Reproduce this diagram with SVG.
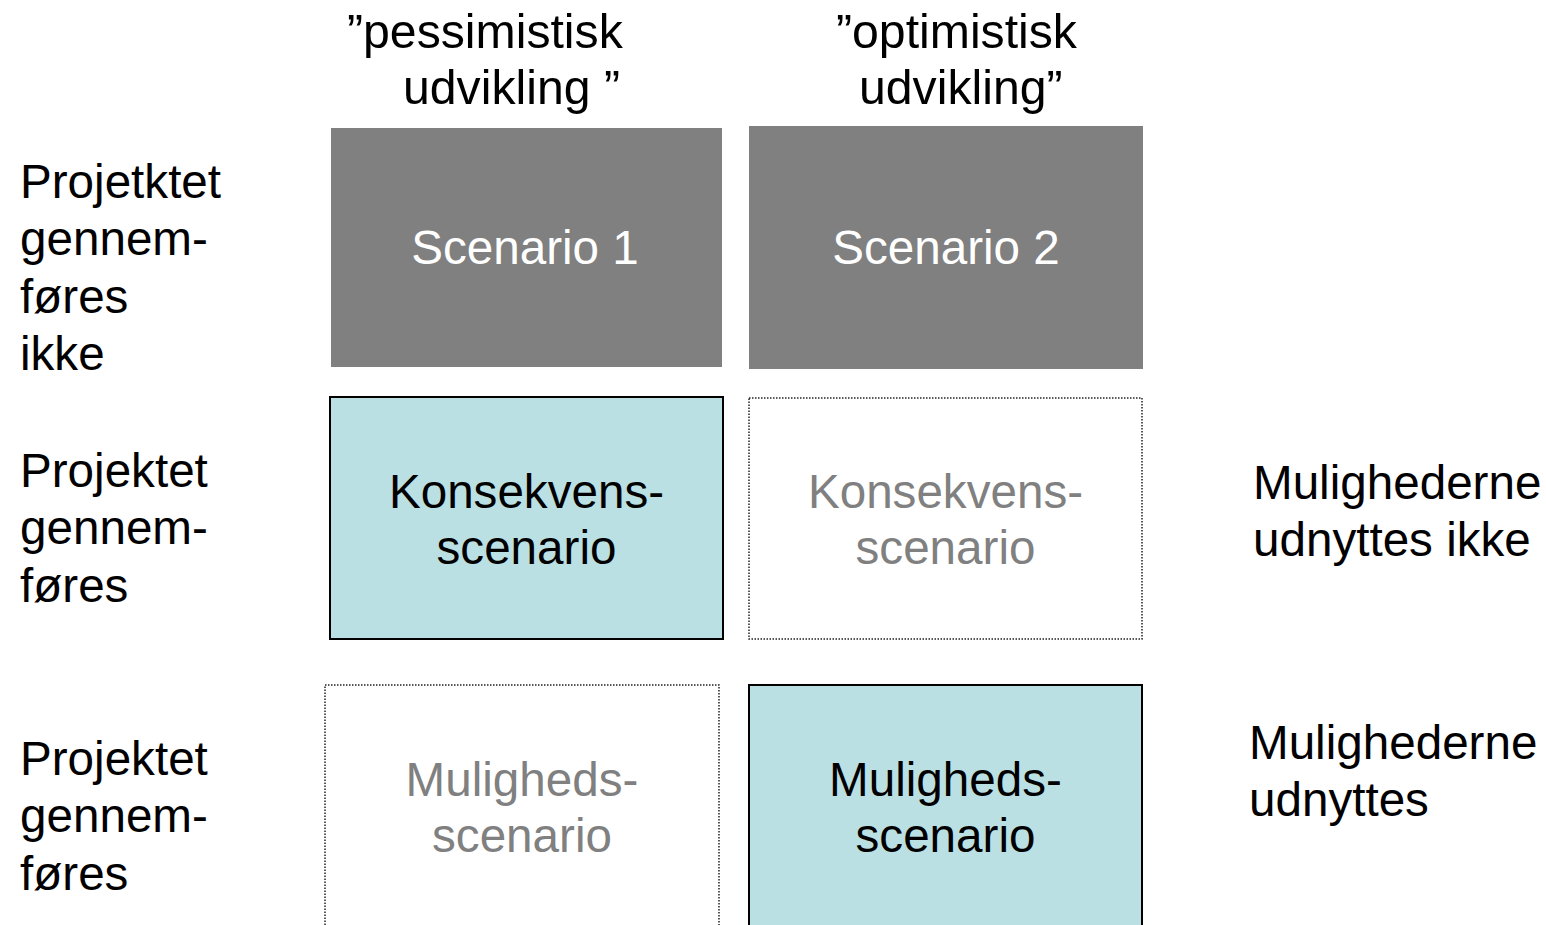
<svg xmlns="http://www.w3.org/2000/svg" width="1546" height="925" viewBox="0 0 1546 925">
<style>
text{font-family:"Liberation Sans",Arial,sans-serif;font-size:47.6px;fill:#000}
.h{font-size:48.2px}
.c{text-anchor:middle}
.w{fill:#ffffff}
.g{fill:#808080}
.dark{fill:#808080;stroke:none}
.teal{fill:#BBE0E3;stroke:#000;stroke-width:2}
.dot{fill:#fff;stroke:#222;stroke-width:1.5;stroke-dasharray:1.5 1.5}
</style>
<rect width="1546" height="925" fill="#fff"/>
<g id="header-pessimistisk">
<text class="h" x="347" y="48">”pessimistisk</text>
<text class="h" x="403" y="104">udvikling ”</text>
</g>
<g id="header-optimistisk">
<text class="h" x="836" y="48">”optimistisk</text>
<text class="h" x="859" y="104">udvikling”</text>
</g>
<g id="row1-label">
<text x="20" y="198">Projetktet</text>
<text x="20" y="255">gennem-</text>
<text x="20" y="313">føres</text>
<text x="20" y="370">ikke</text>
</g>
<g id="row2-label">
<text x="20" y="487">Projektet</text>
<text x="20" y="544">gennem-</text>
<text x="20" y="602">føres</text>
</g>
<g id="row3-label">
<text x="20" y="775">Projektet</text>
<text x="20" y="832">gennem-</text>
<text x="20" y="890">føres</text>
</g>
<g id="scenario1">
<rect class="dark" x="331" y="128" width="391" height="239"/>
<text class="c w" x="525" y="264">Scenario 1</text>
</g>
<g id="scenario2">
<rect class="dark" x="749" y="126" width="394" height="243"/>
<text class="c w" x="946" y="264">Scenario 2</text>
</g>
<g id="konsekvens-1">
<rect class="teal" x="330" y="397" width="393" height="242"/>
<text class="c" x="526.5" y="508">Konsekvens-</text>
<text class="c" x="526.5" y="564">scenario</text>
</g>
<g id="konsekvens-2">
<rect class="dot" x="749" y="398" width="393" height="241"/>
<text class="c g" x="945.5" y="508">Konsekvens-</text>
<text class="c g" x="945.5" y="564">scenario</text>
</g>
<g id="muligheds-1">
<rect class="dot" x="325" y="685" width="394" height="260"/>
<text class="c g" x="522" y="796">Muligheds-</text>
<text class="c g" x="522" y="852">scenario</text>
</g>
<g id="muligheds-2">
<rect class="teal" x="749" y="685" width="393" height="260"/>
<text class="c" x="945.5" y="796">Muligheds-</text>
<text class="c" x="945.5" y="852">scenario</text>
</g>
<g id="right-label-1">
<text x="1253" y="499">Mulighederne</text>
<text x="1253" y="556">udnyttes ikke</text>
</g>
<g id="right-label-2">
<text x="1249" y="759">Mulighederne</text>
<text x="1249" y="816">udnyttes</text>
</g>
<g id="connectors"></g>
</svg>
